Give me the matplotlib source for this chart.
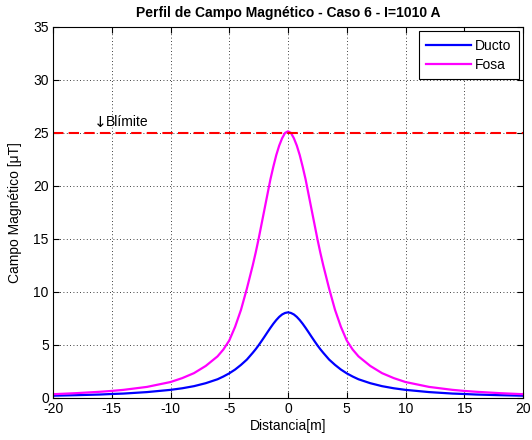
import matplotlib
matplotlib.use("Agg")
import matplotlib.pyplot as plt

plt.rcParams['font.family'] = ['Liberation Sans', 'DejaVu Sans']
plt.rcParams['axes.unicode_minus'] = False

# Distance [m]
distancia = [-20, -18, -16, -15, -14, -12, -10, -9, -8, -7, -6, -5.5, -5, -4.5, -4, -3.5,
             -3, -2.75, -2.5, -2.25, -2, -1.75, -1.5, -1.25, -1, -0.75, -0.5, -0.25, 0,
             0.25, 0.5, 0.75, 1, 1.25, 1.5, 1.75, 2, 2.25, 2.5, 2.75, 3,
             3.5, 4, 4.5, 5, 5.5, 6, 7, 8, 9, 10, 12, 14, 15, 16, 18, 20]

# Magnetic field [uT]
ducto = [0.19, 0.24, 0.30, 0.35, 0.39, 0.53, 0.74, 0.89, 1.09, 1.37, 1.74, 2.00, 2.30, 2.66, 3.10, 3.60,
         4.24, 4.58, 4.95, 5.35, 5.76, 6.18, 6.59, 6.98, 7.33, 7.63, 7.86, 8.00, 8.06,
         8.00, 7.86, 7.63, 7.33, 6.98, 6.59, 6.18, 5.76, 5.35, 4.95, 4.58, 4.24,
         3.60, 3.10, 2.66, 2.30, 2.00, 1.74, 1.37, 1.09, 0.89, 0.74, 0.53, 0.39, 0.35, 0.30, 0.24, 0.19]

fosa = [0.33, 0.43, 0.56, 0.64, 0.74, 1.02, 1.48, 1.85, 2.32, 3.00, 3.90, 4.55, 5.40, 6.70, 8.30, 10.3,
        12.5, 13.7, 15.0, 16.4, 17.8, 19.2, 20.6, 21.8, 22.9, 23.8, 24.5, 25.0, 25.15,
        25.0, 24.5, 23.8, 22.9, 21.8, 20.6, 19.2, 17.8, 16.4, 15.0, 13.7, 12.5,
        10.3, 8.30, 6.70, 5.40, 4.55, 3.90, 3.00, 2.32, 1.85, 1.48, 1.02, 0.74, 0.64, 0.56, 0.43, 0.33]

b_limite = 25
series_labels = ["Ducto", "Fosa"]
x_ticks = [-20, -15, -10, -5, 0, 5, 10, 15, 20]
y_ticks = [0, 5, 10, 15, 20, 25, 30, 35]

fig = plt.figure(figsize=(5.32, 4.40), dpi=100)
ax = fig.add_axes([53/532, 1 - 397.7/440, (523-53)/532, (397.7-27)/440])

ax.plot(distancia, ducto, color='#0000ff', lw=1.6, label=series_labels[0])
ax.plot(distancia, fosa, color='#ff00ff', lw=1.6, label=series_labels[1])
ax.axhline(b_limite, color='#ff0000', lw=1.5, dashes=(5, 2.5))
ax.text(-16.5, 26.0, "\u2193", ha='left', va='center', fontsize=11, family='DejaVu Sans')
ax.text(-15.5, 26.0, "Bl\u00edmite", ha='left', va='center', fontsize=10)

ax.set_xlim(-20, 20)
ax.set_ylim(0, 35)
ax.set_xticks(x_ticks)
ax.set_yticks(y_ticks)
ax.tick_params(direction='in', top=True, right=True, labelsize=10, length=4, width=0.8, pad=3)
ax.grid(True, linestyle=(0, (1, 3)), color='black', lw=0.6)
for s in ax.spines.values():
    s.set_linewidth(0.8)

ax.set_title("Perfil de Campo Magn\u00e9tico - Caso 6 - I=1010 A", fontsize=10, fontweight='bold', pad=7)
ax.set_xlabel("Distancia[m]", fontsize=10, labelpad=2)
ax.set_ylabel("Campo Magn\u00e9tico [\u03bcT]", fontsize=10, labelpad=8)

leg = ax.legend(loc='upper right', fontsize=10, fancybox=False, framealpha=1,
                edgecolor='black', handlelength=3.2, borderaxespad=0.3,
                handletextpad=0.3, labelspacing=0.35, borderpad=0.55)
leg.get_frame().set_linewidth(0.8)

fig.savefig("out.png", dpi=100)
